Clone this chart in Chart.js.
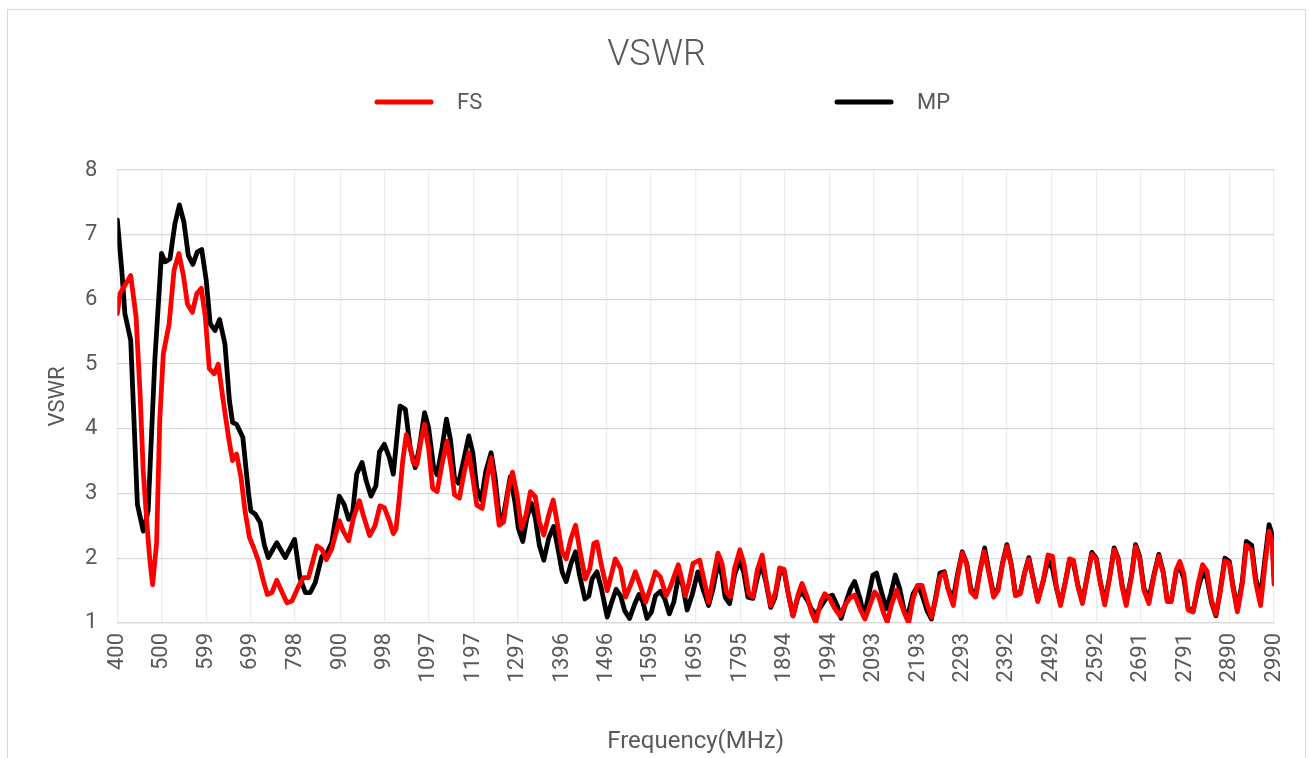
<!DOCTYPE html>
<html>
<head>
<meta charset="utf-8">
<title>VSWR</title>
<script src="https://cdn.jsdelivr.net/npm/chart.js@4.4.1/dist/chart.umd.min.js"></script>
<style>
  html, body { margin: 0; padding: 0; overflow: hidden; background: #fff; }
  #box {
    position: absolute; left: 7px; top: 9px;
    width: 1297px; height: 760px;
    border: 1px solid #d9d9d9;
  }
</style>
</head>
<body>
<div id="box"><canvas id="vswrChart"></canvas></div>
<script>
// x axis tick labels (MHz)
const tickLabels = [400, 500, 599, 699, 798, 900, 998, 1097, 1197, 1297, 1396, 1496, 1595, 1695,
  1795, 1894, 1994, 2093, 2193, 2293, 2392, 2492, 2592, 2691, 2791, 2890, 2990];

// FS series - frequency (MHz) and VSWR
const fsFreq = [400, 406, 417, 430, 442, 451, 458, 467, 473, 479, 488, 495, 503, 516, 527, 538, 548, 557,
  568, 578, 588, 597, 606, 617, 626, 637, 649, 658, 667, 677, 686, 696, 705, 716, 727, 736, 746, 757,
  768, 780, 791, 806, 817, 828, 847, 858, 868, 880, 897, 906, 918, 929, 942, 951, 965, 977, 988, 998,
  1009, 1018, 1024, 1031, 1039, 1047, 1056, 1063, 1071, 1081, 1088, 1097, 1106, 1116, 1127, 1138, 1148,
  1155, 1166, 1177, 1187, 1196, 1205, 1217, 1228, 1237, 1246, 1255, 1265, 1276, 1285, 1295, 1305, 1315,
  1325, 1336, 1345, 1355, 1366, 1376, 1386, 1396, 1405, 1416, 1426, 1435, 1448, 1458, 1467, 1474, 1484,
  1497, 1506, 1515, 1527, 1538, 1549, 1560, 1571, 1583, 1592, 1605, 1616, 1629, 1638, 1656, 1664, 1672,
  1680, 1689, 1704, 1714, 1724, 1734, 1745, 1754, 1764, 1773, 1782, 1794, 1803, 1814, 1823, 1833, 1844,
  1853, 1863, 1874, 1883, 1893, 1903, 1913, 1924, 1933, 1945, 1954, 1964, 1975, 1984, 1995, 2005, 2018,
  2029, 2040, 2051, 2063, 2074, 2085, 2096, 2105, 2115, 2124, 2133, 2145, 2154, 2163, 2172, 2182, 2192,
  2202, 2212, 2223, 2232, 2242, 2252, 2262, 2272, 2281, 2292, 2302, 2311, 2322, 2331, 2341, 2352, 2362,
  2372, 2382, 2392, 2402, 2411, 2422, 2432, 2441, 2450, 2461, 2473, 2484, 2494, 2503, 2512, 2523, 2532,
  2541, 2551, 2561, 2571, 2582, 2592, 2601, 2611, 2622, 2632, 2641, 2650, 2659, 2671, 2680, 2689, 2699,
  2710, 2721, 2732, 2742, 2751, 2760, 2771, 2779, 2788, 2798, 2809, 2820, 2830, 2840, 2850, 2860, 2869,
  2880, 2890, 2898, 2908, 2919, 2928, 2940, 2949, 2960, 2969, 2979, 2986, 2990];
const fsVswr = [5.78, 6.09, 6.22, 6.37, 5.73, 4.54, 3.35, 2.47, 1.96, 1.59, 2.24, 4.13, 5.16, 5.62, 6.45,
  6.71, 6.37, 5.93, 5.80, 6.09, 6.17, 5.73, 4.93, 4.85, 5.00, 4.44, 3.87, 3.51, 3.61, 3.25, 2.73, 2.32,
  2.17, 1.96, 1.65, 1.44, 1.47, 1.66, 1.49, 1.31, 1.34, 1.57, 1.70, 1.70, 2.19, 2.14, 1.98, 2.14, 2.58,
  2.42, 2.27, 2.63, 2.89, 2.66, 2.35, 2.50, 2.81, 2.78, 2.58, 2.38, 2.45, 2.90, 3.50, 3.91, 3.70, 3.47,
  3.45, 3.86, 4.07, 3.70, 3.08, 3.03, 3.45, 3.81, 3.39, 2.98, 2.93, 3.34, 3.63, 3.24, 2.82, 2.77, 3.24,
  3.55, 3.03, 2.51, 2.56, 3.08, 3.33, 2.98, 2.46, 2.67, 3.03, 2.95, 2.56, 2.36, 2.67, 2.90, 2.51, 2.10,
  1.99, 2.31, 2.51, 2.15, 1.68, 1.84, 2.23, 2.25, 1.89, 1.50, 1.74, 1.99, 1.84, 1.40, 1.58, 1.79, 1.58,
  1.32, 1.50, 1.79, 1.71, 1.42, 1.55, 1.90, 1.68, 1.42, 1.62, 1.92, 1.97, 1.66, 1.32, 1.69, 2.08, 1.92,
  1.48, 1.40, 1.84, 2.13, 1.92, 1.45, 1.40, 1.82, 2.05, 1.64, 1.27, 1.48, 1.85, 1.83, 1.43, 1.11, 1.43,
  1.61, 1.40, 1.17, 1.01, 1.32, 1.45, 1.38, 1.24, 1.11, 1.27, 1.38, 1.43, 1.22, 1.06, 1.27, 1.48, 1.40,
  1.17, 1.01, 1.27, 1.51, 1.32, 1.14, 1.00, 1.38, 1.58, 1.58, 1.32, 1.09, 1.35, 1.71, 1.77, 1.48, 1.27,
  1.69, 2.08, 1.90, 1.48, 1.40, 1.77, 2.10, 1.76, 1.40, 1.50, 1.90, 2.18, 1.88, 1.42, 1.45, 1.78, 1.98,
  1.70, 1.33, 1.65, 2.05, 2.03, 1.55, 1.27, 1.64, 1.99, 1.97, 1.56, 1.30, 1.68, 2.06, 1.98, 1.62, 1.28,
  1.70, 2.13, 1.98, 1.55, 1.27, 1.72, 2.18, 2.00, 1.50, 1.30, 1.72, 2.03, 1.77, 1.33, 1.33, 1.82, 1.95,
  1.76, 1.20, 1.17, 1.60, 1.90, 1.80, 1.35, 1.13, 1.45, 1.96, 1.92, 1.55, 1.17, 1.60, 2.20, 2.12, 1.62,
  1.27, 1.85, 2.42, 2.25, 1.60];

// MP series
const mpFreq = [400, 410, 417, 430, 445, 458, 469, 484, 499, 507, 518, 529, 539, 549, 559, 569, 579, 589,
  599, 608, 619, 629, 641, 651, 658, 667, 681, 694, 699, 709, 720, 729, 738, 757, 776, 797, 809, 821,
  832, 843, 858, 868, 880, 897, 908, 918, 927, 936, 948, 957, 968, 979, 987, 998, 1009, 1018, 1033, 1045,
  1056, 1067, 1076, 1088, 1097, 1108, 1116, 1127, 1137, 1146, 1155, 1164, 1175, 1187, 1196, 1205, 1215,
  1225, 1237, 1246, 1256, 1265, 1280, 1290, 1298, 1308, 1317, 1327, 1336, 1345, 1355, 1366, 1377, 1388,
  1396, 1405, 1416, 1426, 1435, 1447, 1456, 1463, 1474, 1484, 1497, 1506, 1517, 1527, 1536, 1547, 1559,
  1568, 1577, 1586, 1596, 1605, 1616, 1626, 1636, 1646, 1657, 1666, 1676, 1687, 1700, 1711, 1724, 1734,
  1745, 1754, 1761, 1771, 1782, 1794, 1803, 1812, 1823, 1833, 1842, 1853, 1863, 1872, 1883, 1893, 1903,
  1913, 1924, 1933, 1945, 1954, 1964, 1977, 1988, 2001, 2012, 2021, 2033, 2042, 2051, 2063, 2072, 2081,
  2092, 2100, 2111, 2122, 2132, 2142, 2152, 2162, 2171, 2182, 2193, 2202, 2213, 2223, 2232, 2242, 2252,
  2260, 2272, 2281, 2292, 2302, 2311, 2322, 2331, 2342, 2352, 2362, 2372, 2382, 2392, 2402, 2411, 2422,
  2432, 2441, 2450, 2461, 2473, 2484, 2494, 2503, 2512, 2523, 2532, 2541, 2551, 2561, 2571, 2582, 2592,
  2601, 2611, 2622, 2632, 2641, 2650, 2659, 2671, 2680, 2689, 2699, 2710, 2721, 2732, 2742, 2751, 2760,
  2771, 2779, 2788, 2798, 2809, 2820, 2830, 2840, 2850, 2860, 2869, 2880, 2890, 2898, 2908, 2919, 2928,
  2940, 2949, 2960, 2969, 2979, 2986, 2990];
const mpVswr = [7.23, 6.45, 5.78, 5.37, 2.83, 2.42, 2.73, 5.06, 6.71, 6.58, 6.63, 7.17, 7.46, 7.20, 6.68,
  6.54, 6.73, 6.77, 6.30, 5.62, 5.52, 5.69, 5.31, 4.44, 4.10, 4.07, 3.87, 2.99, 2.73, 2.68, 2.55, 2.21,
  2.01, 2.24, 2.01, 2.29, 1.70, 1.47, 1.47, 1.62, 2.03, 2.06, 2.24, 2.96, 2.83, 2.60, 2.71, 3.30, 3.48,
  3.20, 2.96, 3.12, 3.64, 3.76, 3.56, 3.30, 4.35, 4.30, 3.70, 3.40, 3.70, 4.25, 4.02, 3.42, 3.29, 3.70,
  4.15, 3.83, 3.24, 3.16, 3.50, 3.89, 3.63, 3.08, 2.90, 3.34, 3.63, 3.24, 2.59, 2.67, 3.26, 2.88, 2.46,
  2.26, 2.62, 2.85, 2.62, 2.20, 1.97, 2.31, 2.49, 2.10, 1.79, 1.64, 1.92, 2.10, 1.74, 1.37, 1.42, 1.68,
  1.79, 1.53, 1.09, 1.30, 1.52, 1.42, 1.19, 1.07, 1.30, 1.44, 1.32, 1.07, 1.17, 1.42, 1.49, 1.37, 1.14,
  1.32, 1.74, 1.58, 1.20, 1.43, 1.79, 1.53, 1.27, 1.53, 1.92, 1.74, 1.40, 1.30, 1.74, 1.97, 1.77, 1.40,
  1.38, 1.69, 1.92, 1.61, 1.24, 1.38, 1.77, 1.80, 1.43, 1.11, 1.40, 1.48, 1.35, 1.22, 1.13, 1.27, 1.39,
  1.43, 1.27, 1.07, 1.35, 1.53, 1.64, 1.38, 1.09, 1.38, 1.74, 1.77, 1.48, 1.22, 1.45, 1.74, 1.53, 1.19,
  1.14, 1.45, 1.58, 1.43, 1.19, 1.06, 1.38, 1.77, 1.79, 1.53, 1.38, 1.74, 2.10, 1.92, 1.53, 1.43, 1.79,
  2.16, 1.79, 1.45, 1.53, 1.92, 2.21, 1.90, 1.45, 1.47, 1.79, 2.01, 1.71, 1.35, 1.64, 1.97, 1.84, 1.53,
  1.30, 1.64, 1.95, 1.92, 1.58, 1.33, 1.69, 2.09, 2.00, 1.64, 1.32, 1.71, 2.16, 2.00, 1.58, 1.32, 1.74,
  2.21, 2.03, 1.53, 1.38, 1.74, 2.06, 1.79, 1.35, 1.35, 1.79, 1.87, 1.69, 1.22, 1.19, 1.53, 1.77, 1.69,
  1.32, 1.11, 1.48, 2.00, 1.95, 1.58, 1.22, 1.64, 2.26, 2.20, 1.69, 1.40, 1.95, 2.52, 2.36, 1.72];

const textColor = '#595959';
Chart.defaults.font.family = 'Roboto, "Noto Sans", sans-serif';
Chart.defaults.color = textColor;

function toPoints(freqs, values) {
    return freqs.map((f, i) => ({ x: f, y: values[i] }));
}

// legend drawn as wide-spaced line samples like the original
const lineLegend = {
    id: 'lineLegend',
    afterDraw(chart) {
        const ctx = chart.ctx;
        const spots = [369, 829]; // left end of each legend line
        ctx.save();
        ctx.font = '22px Roboto, "Noto Sans", sans-serif';
        ctx.textBaseline = 'middle';
        ctx.textAlign = 'left';
        chart.data.datasets.forEach((ds, i) => {
            const x = spots[i], y = 92;
            ctx.strokeStyle = ds.borderColor;
            ctx.lineWidth = 5;
            ctx.lineCap = 'round';
            ctx.beginPath();
            ctx.moveTo(x, y);
            ctx.lineTo(x + 54, y);
            ctx.stroke();
            ctx.fillStyle = textColor;
            ctx.fillText(ds.label, x + 80, y + 1);
        });
        ctx.restore();
    }
};

const ctx = document.getElementById('vswrChart').getContext('2d');
window.vswrChart = new Chart(ctx, {
    type: 'line',
    data: {
        datasets: [{
            label: 'FS',
            data: toPoints(fsFreq, fsVswr),
            borderColor: '#ff0000',
            backgroundColor: '#ff0000'
        }, {
            label: 'MP',
            data: toPoints(mpFreq, mpVswr),
            borderColor: '#000000',
            backgroundColor: '#000000'
        }]
    },
    options: {
        responsive: true,
        maintainAspectRatio: false,
        animation: false,
        layout: { padding: { left: 31, right: 31, top: 0, bottom: 13.6 } },
        elements: {
            line: { borderWidth: 4.8, tension: 0, borderJoinStyle: 'round', borderCapStyle: 'round' },
            point: { radius: 0, hoverRadius: 0 }
        },
        plugins: {
            legend: { display: false },
            tooltip: { enabled: false },
            title: {
                display: true,
                text: 'VSWR',
                color: textColor,
                font: { size: 36, weight: 300 },
                padding: { top: 24.4, bottom: 92.4 }
            }
        },
        scales: {
            x: {
                type: 'linear',
                min: 400,
                max: 2990,
                afterBuildTicks: axis => {
                    axis.ticks = tickLabels.map(v => ({ value: v }));
                },
                ticks: {
                    autoSkip: false,
                    minRotation: 90,
                    maxRotation: 90,
                    padding: 10,
                    font: { size: 22, lineHeight: 0.9 },
                    callback: v => String(v)
                },
                grid: { color: '#eeeeee', lineWidth: 1.3, drawTicks: false },
                border: { color: '#d9d9d9', width: 1.3 },
                title: {
                    display: true,
                    text: 'Frequency(MHz)',
                    font: { size: 24 },
                    padding: { top: 35.2, bottom: 0 }
                }
            },
            y: {
                min: 1,
                max: 8,
                ticks: { stepSize: 1, padding: 20, font: { size: 22 } },
                grid: { color: '#d9d9d9', lineWidth: 1.3, drawTicks: false },
                border: { display: false },
                title: {
                    display: true,
                    text: 'VSWR',
                    font: { size: 22 },
                    padding: { top: 6.3, bottom: -6.75 }
                }
            }
        }
    },
    plugins: [lineLegend]
});
</script>
</body>
</html>
